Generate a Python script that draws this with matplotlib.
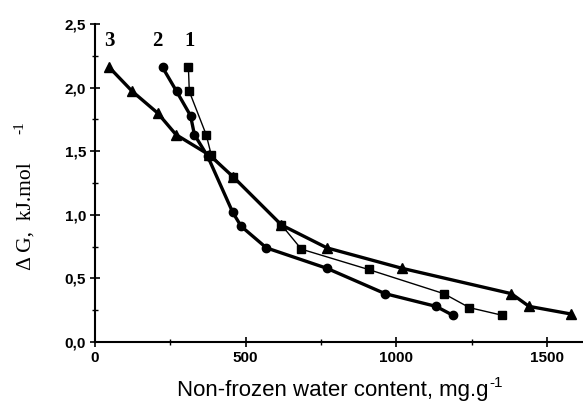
import matplotlib
matplotlib.use('Agg')
import matplotlib.pyplot as plt
from matplotlib.ticker import MultipleLocator, FuncFormatter

# curve 1 (squares), 2 (circles), 3 (triangles)
x1 = [310, 313, 369, 386, 457, 619, 685, 908, 1158, 1243, 1352]
y1 = [2.16, 1.97, 1.63, 1.47, 1.30, 0.92, 0.73, 0.57, 0.38, 0.27, 0.21]

x2 = [224, 271, 317, 330, 374, 457, 485, 569, 769, 963, 1132, 1188]
y2 = [2.16, 1.97, 1.78, 1.63, 1.46, 1.02, 0.91, 0.74, 0.58, 0.38, 0.28, 0.21]

x3 = [47, 124, 208, 269, 380, 458, 619, 770, 1018, 1382, 1441, 1580]
y3 = [2.16, 1.97, 1.80, 1.63, 1.47, 1.30, 0.92, 0.74, 0.58, 0.38, 0.28, 0.22]

curve_labels = ['1', '2', '3']
label_x = [313, 207, 47]
label_y = [2.37, 2.37, 2.37]

fig = plt.figure(figsize=(5.83, 4.05), dpi=100)
ax = fig.add_axes([0.163, 0.1556, 0.837, 0.785])

ax.plot(x1, y1, color='black', lw=1.0, marker='s', ms=6)
ax.plot(x2, y2, color='black', lw=2.4, marker='o', ms=6)
ax.plot(x3, y3, color='black', lw=2.4, marker='^', ms=7)

for t, xx, yy in zip(curve_labels, label_x, label_y):
    ax.text(xx, yy, t, family='Liberation Serif', fontsize=15, fontweight='bold',
            ha='center', va='center')

ax.set_xlim(0, 1620)
ax.set_ylim(0, 2.5)
ax.spines['top'].set_visible(False)
ax.spines['right'].set_visible(False)
ax.spines['left'].set_linewidth(1.5)
ax.spines['bottom'].set_linewidth(1.5)

ax.xaxis.set_major_locator(MultipleLocator(500))
ax.xaxis.set_minor_locator(MultipleLocator(250))
ax.yaxis.set_major_locator(MultipleLocator(0.5))
ax.yaxis.set_minor_locator(MultipleLocator(0.25))
ax.yaxis.set_major_formatter(FuncFormatter(lambda v, p: ('%.1f' % v).replace('.', ',')))

ax.tick_params(which='major', direction='inout', length=7, width=1.2, pad=3)
ax.tick_params(which='minor', direction='inout', length=4, width=1.0)
for lab in ax.get_xticklabels() + ax.get_yticklabels():
    lab.set_family('Liberation Sans')
    lab.set_fontweight('bold')
    lab.set_fontsize(11)

# x label with a plain "-1" superscript placed right after the main text
xl = fig.text(0.57, 0.037, 'Non-frozen water content, mg.g', family='Liberation Sans',
              fontsize=16, ha='center', va='center')
ax.annotate('-1', xy=(1, 0.85), xycoords=xl, xytext=(1, 0), textcoords='offset points',
            family='Liberation Sans', fontsize=11, ha='left', va='center')

fig.text(0.045, 0.467, '\u0394 G,  kJ.mol', family='Liberation Serif', fontsize=15.5,
         rotation=90, ha='center', va='center')
fig.text(0.034, 0.685, '-1', family='Liberation Serif', fontsize=11,
         rotation=90, ha='center', va='center')

plt.savefig('out.png', dpi=100)
